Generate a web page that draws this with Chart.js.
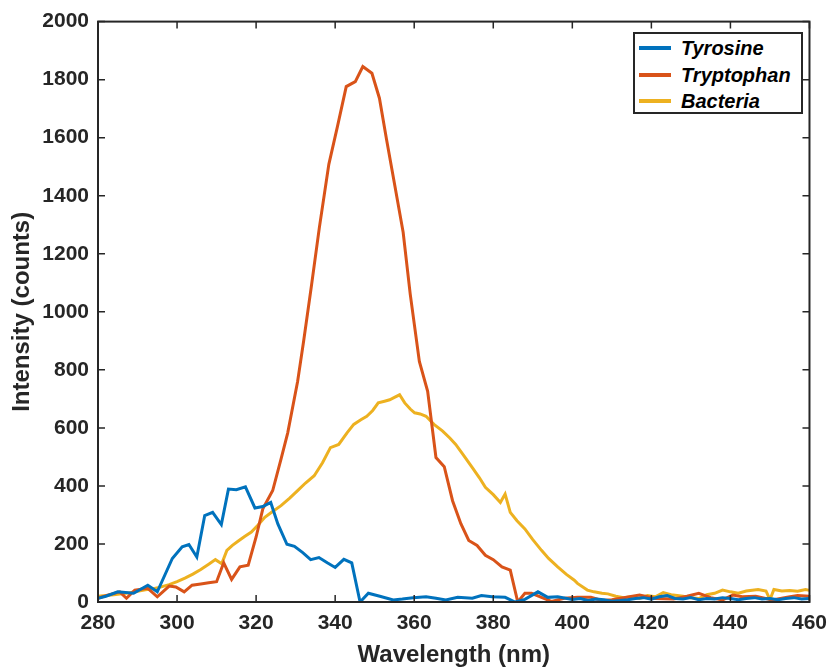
<!DOCTYPE html>
<html>
<head>
<meta charset="utf-8">
<script src="https://cdn.jsdelivr.net/npm/chart.js@4.4.0/dist/chart.umd.min.js"></script>
<style>
  html, body { margin: 0; padding: 0; background: #fff; }
  #wrap { position: relative; width: 836px; height: 671px; }
  #legend {
    position: absolute; left: 633px; top: 32px; width: 166px; height: 78px;
    border: 2px solid #262626; background: #fff; box-sizing: content-box;
    font-family: "Liberation Sans", Arial, sans-serif; font-weight: bold; font-style: italic;
    font-size: 20px; color: #000;
  }
  .item { position: absolute; left: 0; height: 26px; line-height: 26px; }
  .sw { position: absolute; left: 4px; top: 11px; width: 32px; height: 4px; }
  .lab { position: absolute; left: 46px; top: 0; white-space: nowrap; }
</style>
</head>
<body>
<div id="wrap">
  <canvas id="c" width="836" height="671"></canvas>
  <div id="legend"></div>
</div>
<script>
// ---- data ----
const xTicks = [280, 300, 320, 340, 360, 380, 400, 420, 440, 460];
const yTicks = [0, 200, 400, 600, 800, 1000, 1200, 1400, 1600, 1800, 2000];
const seriesNames = ["Tyrosine", "Tryptophan", "Bacteria"];
const seriesColors = ["#0072BD", "#D95319", "#EDB120"];

const tyrosineX = [280, 282, 285, 289, 292.6, 295, 298.8, 301.3, 303, 305, 307, 309, 311.2, 313, 315, 317.3, 319.7, 321.7, 323.7, 325.5, 327.8, 329.7, 331.8, 333.8, 335.9, 338, 340, 342.2, 344.2, 346.3, 348.4, 351.3, 354.7, 357, 359.7, 363, 365.5, 368, 371, 374.7, 377, 379.7, 383, 385.5, 388, 391.3, 393.8, 396.3, 400, 402, 404, 406, 408, 410, 412, 414, 416, 418, 420, 422, 424, 426, 428, 430, 432, 434, 436, 438, 440, 442, 444, 446, 448, 450, 452, 454, 456, 458, 460];
const tyrosineY = [13, 20, 35, 30, 58, 35, 150, 190, 198, 155, 298, 309, 267, 389, 387, 397, 324, 329, 343, 269, 199, 192, 170, 146, 153, 135, 119, 147, 135, 0, 30, 20, 7, 10, 15, 18, 13, 7, 16, 13, 22, 18, 16, 0, 9, 35, 16, 18, 9, 12, 5, 10, 8, 3, 5, 8, 12, 15, 10, 18, 22, 12, 10, 15, 8, 12, 10, 15, 12, 8, 12, 15, 10, 12, 8, 12, 15, 10, 12];

const tryptophanX = [280, 282, 285.5, 287.2, 289.3, 292.6, 295, 298, 299.7, 301.8, 303.8, 306, 308, 310, 311.8, 313.8, 315.9, 318, 320, 321.7, 324.2, 326.3, 328, 330.5, 332, 334, 336, 338.4, 340.6, 342.8, 345.1, 347, 349.3, 351.2, 353, 355.1, 357.2, 359, 361.3, 363.4, 365.5, 367.6, 369.7, 371.8, 373.8, 375.9, 378, 380, 382.2, 384.3, 386.2, 388, 389.7, 392.2, 394.7, 398, 401.3, 404.7, 407.5, 410, 413, 417, 421, 425.6, 429, 432, 435, 438, 440.6, 443, 446.4, 450.6, 454.7, 457, 460];
const tryptophanY = [13, 22, 35, 13, 41, 47, 18, 55, 52, 35, 58, 62, 66, 70, 135, 78, 121, 127, 224, 321, 384, 492, 583, 760, 897, 1090, 1290, 1508, 1640, 1776, 1793, 1845, 1822, 1736, 1594, 1434, 1274, 1060, 829, 726, 498, 466, 349, 270, 212, 195, 161, 146, 121, 110, 0, 30, 30, 16, 2, 13, 16, 16, 5, 8, 15, 24, 12, 10, 20, 30, 15, 7, 24, 18, 20, 7, 17, 22, 20];

const bacteriaX = [280, 282, 284, 286, 288, 290, 292, 294, 296, 298, 300, 302, 304, 306, 308, 309.7, 311.3, 312.6, 314, 315.5, 317, 318.8, 320.5, 322.2, 324, 326.3, 328.5, 330.5, 332.5, 334.7, 336.8, 338.8, 340.9, 343, 344.7, 346.5, 348, 349.5, 350.9, 352.5, 353.8, 355, 356.3, 357.6, 359, 360.1, 361.5, 363, 365, 367.2, 369, 370.5, 372.5, 374.7, 376.5, 378, 380, 381.8, 382.5, 383, 384.3, 386, 388, 390, 392.2, 394, 396.3, 398.5, 400.5, 401.3, 403.8, 405.5, 407.5, 409, 411, 413, 415, 417, 419, 421, 423, 425, 428, 430, 432, 434, 436, 438, 440, 442, 444, 447, 449, 450, 451, 453, 455, 457, 459, 460];
const bacteriaY = [20, 22, 25, 28, 32, 37, 42, 46, 52, 60, 70, 82, 96, 112, 130, 146, 132, 178, 195, 210, 225, 241, 265, 292, 310, 332, 358, 384, 410, 435, 480, 532, 543, 583, 612, 628, 640, 660, 686, 692, 697, 705, 714, 686, 665, 652, 648, 640, 612, 589, 565, 543, 505, 463, 428, 395, 370, 343, 360, 372, 309, 280, 252, 215, 178, 150, 121, 95, 75, 64, 41, 35, 30, 28, 20, 15, 18, 12, 22, 18, 32, 25, 20, 15, 12, 25, 30, 41, 35, 30, 38, 43, 38, 8, 43, 38, 40, 37, 43, 40];

const toPts = (xs, ys) => xs.map((x, i) => ({ x: x, y: ys[i] }));
const seriesX = [tyrosineX, tryptophanX, bacteriaX];
const seriesY = [tyrosineY, tryptophanY, bacteriaY];

const AX = "#262626";
const FONT = "'Liberation Sans', Arial, Helvetica, sans-serif";

// inward ticks + box like the original axes
const boxPlugin = {
  id: 'box',
  afterDatasetsDraw(chart) {
    const { ctx, chartArea: a, scales: { x, y } } = chart;
    ctx.save();
    ctx.strokeStyle = AX;
    ctx.lineWidth = 1.5;
    const tl = 7;
    ctx.beginPath();
    xTicks.forEach(v => {
      const px = x.getPixelForValue(v);
      ctx.moveTo(px, a.bottom); ctx.lineTo(px, a.bottom - tl);
      ctx.moveTo(px, a.top); ctx.lineTo(px, a.top + tl);
    });
    yTicks.forEach(v => {
      const py = y.getPixelForValue(v);
      ctx.moveTo(a.left, py); ctx.lineTo(a.left + tl, py);
      ctx.moveTo(a.right, py); ctx.lineTo(a.right - tl, py);
    });
    ctx.stroke();
    ctx.lineWidth = 2;
    ctx.strokeRect(a.left, a.top, a.right - a.left, a.bottom - a.top);
    ctx.restore();
  }
};

const chart = new Chart(document.getElementById('c'), {
  type: 'line',
  data: {
    datasets: seriesNames.map((n, i) => ({
      label: n,
      data: toPts(seriesX[i], seriesY[i]),
      borderColor: seriesColors[i],
      backgroundColor: seriesColors[i],
      borderWidth: 3,
      pointRadius: 0,
      tension: 0,
      fill: false
    }))
  },
  options: {
    responsive: false,
    animation: false,
    layout: { padding: { top: 18, right: 19, left: 0, bottom: 0 } },
    plugins: { legend: { display: false }, tooltip: { enabled: false } },
    scales: {
      x: {
        type: 'linear', min: 280, max: 460,
        afterBuildTicks: s => { s.ticks = xTicks.map(v => ({ value: v })); },
        ticks: { color: AX, font: { family: FONT, size: 21, weight: 'bold' }, padding: 9, maxRotation: 0, callback: v => String(v) },
        grid: { display: false, drawTicks: false },
        border: { display: false },
        title: { display: true, text: 'Wavelength (nm)', color: AX, font: { family: FONT, size: 24, weight: 'bold' }, padding: { bottom: 1, top: 0 } },
        afterFit: s => { s.height = 69; }
      },
      y: {
        type: 'linear', min: 0, max: 2000,
        afterBuildTicks: s => { s.ticks = yTicks.map(v => ({ value: v })); },
        ticks: { color: AX, font: { family: FONT, size: 21, weight: 'bold' }, padding: 9, callback: v => String(v) },
        grid: { display: false, drawTicks: false },
        border: { display: false },
        title: { display: true, text: 'Intensity (counts)', color: AX, font: { family: FONT, size: 24, weight: 'bold' }, padding: { top: 8, bottom: 0 } },
        afterFit: s => { s.width = 98; }
      }
    }
  },
  plugins: [boxPlugin]
});

// HTML legend built from the series
const leg = document.getElementById('legend');
seriesNames.forEach((n, i) => {
  const it = document.createElement('div');
  it.className = 'item';
  it.style.top = (1 + i * 26.5) + 'px';
  it.style.width = '100%';
  const sw = document.createElement('div');
  sw.className = 'sw';
  sw.style.background = seriesColors[i];
  const lb = document.createElement('div');
  lb.className = 'lab';
  lb.textContent = n;
  it.appendChild(sw); it.appendChild(lb);
  leg.appendChild(it);
});
</script>
</body>
</html>
